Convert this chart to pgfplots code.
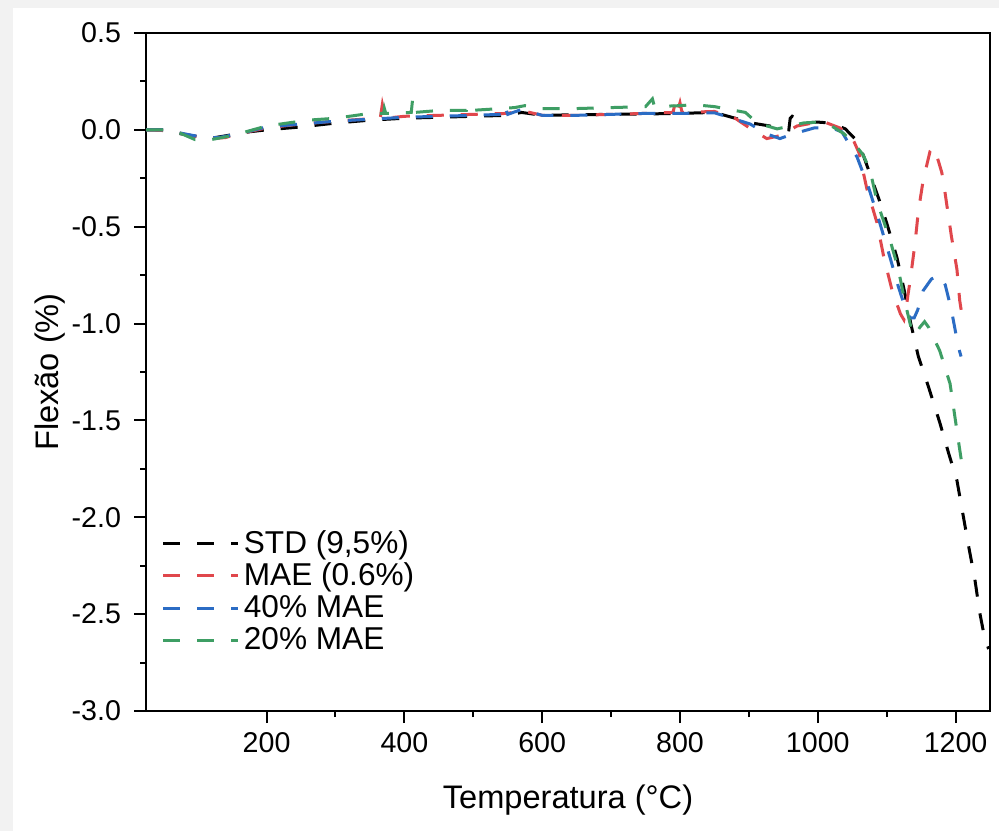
\documentclass[border=0pt]{standalone}
\usepackage{pgfplots}
\pgfplotsset{compat=1.18}
\usepackage{fontspec}
\setmainfont{Liberation Sans}
\definecolor{bggray}{HTML}{F2F2F2}
\definecolor{cred}{HTML}{E0474C}
\definecolor{cblue}{HTML}{2B6CC4}
\definecolor{cgreen}{HTML}{3E9E64}
\begin{document}
\begin{tikzpicture}
\useasboundingbox (-73pt,-60pt) rectangle (426.5pt,355.5pt);
\fill[bggray] (-73pt,-60pt) rectangle (426.5pt,355.5pt);
\fill[white] (-66.5pt,-60pt) rectangle (426.5pt,351.5pt);
\begin{axis}[
  scale only axis,
  width=422pt, height=339pt,
  xmin=25, xmax=1250, ymin=-3, ymax=0.5,
  axis line style={line width=1.2pt},
  xtick={200,400,600,800,1000,1200},
  ytick={-3,-2.5,-2,-1.5,-1,-0.5,0,0.5},
  minor x tick num=1, minor y tick num=1,
  tick align=outside,
  xtick pos=bottom, ytick pos=left,
  major tick length=6pt, minor tick length=3pt,
  every tick/.style={black, line width=1pt},
  /pgf/number format/assume math mode=true,
  xticklabel style={/pgf/number format/set thousands separator={}, font=\fontsize{14.3}{16}\selectfont, yshift=-1pt},
  yticklabel style={/pgf/number format/fixed, /pgf/number format/fixed zerofill, /pgf/number format/precision=1, font=\fontsize{14.3}{16}\selectfont, xshift=-3pt},
  xlabel={Temperatura (°C)},
  ylabel={Flexão (\%)},
  xlabel style={font=\fontsize{16.3}{19}\selectfont, at={(rel axis cs:0.5,0)}, anchor=center, yshift=-44.5pt},
  ylabel style={font=\fontsize{16.3}{19}\selectfont, at={(rel axis cs:0,0.5)}, anchor=center, yshift=48pt},
  legend style={draw=none, fill=none, at={(rel axis cs:0.016,0.276)}, anchor=north west,
    font=\fontsize{15.8}{18}\selectfont, row sep=-0.6pt, inner sep=1pt},
  legend cell align=left,
  legend image code/.code={\draw[#1] (0pt,0pt) -- (37.5pt,0pt);},
  every axis plot/.append style={line width=1.5pt, dash pattern=on 8.5pt off 8.5pt},
]
\addplot[black] coordinates {
(25,0) (50,0.0) (75,-0.02) (100,-0.035) (125,-0.04) (150,-0.025) (175,-0.01) (200,0.0)
(250,0.015) (300,0.035) (350,0.05) (400,0.06) (450,0.065) (500,0.07) (550,0.075) (570,0.09)
(600,0.075) (650,0.078) (700,0.08) (750,0.082) (800,0.085) (850,0.09) (880,0.06) (905,0.035)
(930,0.02) (950,0.005) (958,0.0) (960,0.06) (963,0.07) (980,0.035) (1000,0.04) (1020,0.035)
(1040,0.005) (1055,-0.05) (1066,-0.13) (1080,-0.27) (1090,-0.37) (1100,-0.48) (1115,-0.66)
(1125,-0.82) (1135,-1.0) (1146,-1.17) (1161,-1.33) (1177,-1.51) (1190,-1.67) (1202,-1.81)
(1210,-1.97) (1219,-2.15) (1228,-2.32) (1235,-2.49) (1242,-2.62) (1248,-2.68)
};
\addlegendentry{STD (9,5\%)}
\addplot[cred] coordinates {
(25,0) (60,-0.005) (90,-0.03) (120,-0.045) (140,-0.04) (160,-0.02) (200,0.01) (250,0.03)
(300,0.045) (340,0.055) (365,0.06) (368,0.13) (372,0.06) (400,0.07) (450,0.075) (500,0.08)
(550,0.085) (570,0.1) (600,0.075) (650,0.075) (700,0.08) (750,0.085) (790,0.09) (793,0.14)
(796,0.09) (800,0.14) (803,0.09) (850,0.095) (880,0.06) (905,0.0) (926,-0.045) (945,-0.03)
(970,0.02) (1000,0.04) (1010,0.04) (1032,0.01) (1050,-0.04) (1060,-0.12) (1071,-0.3)
(1086,-0.48) (1096,-0.66) (1108,-0.83) (1120,-0.95) (1125,-0.98) (1128,-0.93) (1131,-0.85)
(1134,-0.78) (1141,-0.59) (1146,-0.42) (1153,-0.26) (1163,-0.11) (1168,-0.09) (1175,-0.16)
(1180,-0.22) (1183,-0.28) (1187,-0.38) (1194,-0.55) (1202,-0.72) (1206,-0.88) (1209,-0.95)
};
\addlegendentry{MAE (0.6\%)}
\addplot[cblue] coordinates {
(25,0) (50,0.0) (80,-0.02) (110,-0.04) (130,-0.04) (160,-0.02) (200,0.015) (250,0.03)
(300,0.045) (350,0.055) (400,0.065) (450,0.07) (500,0.075) (540,0.08) (545,0.13) (550,0.08)
(570,0.105) (600,0.075) (650,0.075) (700,0.08) (750,0.085) (800,0.085) (850,0.088) (880,0.055)
(902,0.03) (925,-0.02) (945,-0.045) (965,-0.02) (995,0.01) (1020,0.01) (1035,-0.01)
(1045,-0.07) (1057,-0.14) (1074,-0.30) (1090,-0.48) (1105,-0.66) (1117,-0.81) (1128,-0.93)
(1134,-0.97) (1140,-0.97) (1145,-0.93) (1153,-0.83) (1165,-0.77) (1177,-0.75) (1185,-0.8)
(1194,-0.93) (1204,-1.12) (1208,-1.17)
};
\addlegendentry{40\% MAE}
\addplot[cgreen] coordinates {
(25,0) (50,0.0) (70,-0.01) (96,-0.05) (120,-0.05) (150,-0.03) (180,0.0) (200,0.02) (230,0.035)
(260,0.05) (300,0.06) (340,0.08) (370,0.085) (371,0.11) (373,0.085) (410,0.09) (412,0.16)
(415,0.09) (450,0.1) (490,0.1) (492,0.13) (495,0.1) (540,0.11) (560,0.115) (575,0.125)
(600,0.11) (650,0.11) (700,0.115) (750,0.12) (760,0.16) (763,0.12) (800,0.125) (820,0.13)
(850,0.12) (880,0.1) (895,0.09) (912,0.035) (941,0.005) (960,0.02) (980,0.036) (1000,0.04)
(1020,0.02) (1038,-0.02) (1055,-0.08) (1066,-0.13) (1076,-0.21) (1086,-0.37) (1105,-0.57)
(1117,-0.72) (1126,-0.88) (1136,-1.03) (1141,-1.06) (1148,-1.02) (1155,-0.99) (1161,-1.02)
(1177,-1.14) (1192,-1.31) (1199,-1.48) (1206,-1.65) (1209,-1.72)
};
\addlegendentry{20\% MAE}
\end{axis}
\end{tikzpicture}
\end{document}
